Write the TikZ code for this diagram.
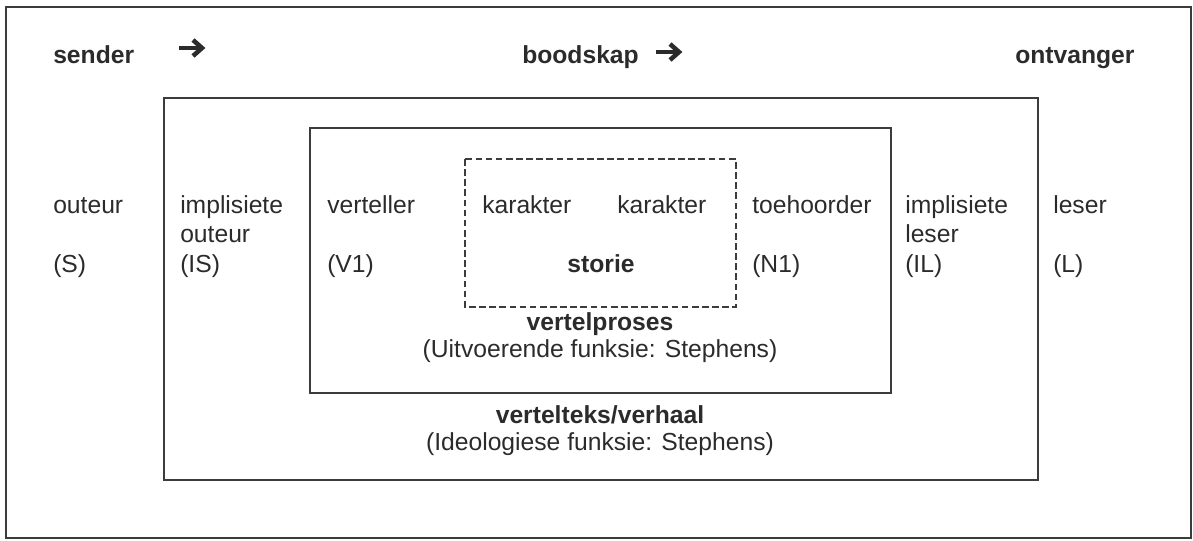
\documentclass[tikz,border=0pt]{standalone}
\usepackage{fontspec}
\setmainfont{Liberation Sans}
\usetikzlibrary{positioning}
\definecolor{ink}{HTML}{2B2B2B}
\definecolor{rule}{HTML}{3C3C3C}

\begin{document}
\begin{tikzpicture}[
    x=0.75pt, y=-0.75pt,
    every node/.style={font=\fontsize{18.5}{22}\selectfont, text=ink, inner sep=0pt},
    lbl/.style={anchor=base west},
    head/.style={anchor=base west, font=\fontsize{18.5}{22}\selectfont\bfseries},
    mid/.style={anchor=base},
    midbold/.style={anchor=base, font=\fontsize{18.5}{22}\selectfont\bfseries},
    frame/.style={draw=rule, line width=1.5pt},
    story/.style={draw=rule, line width=1.2pt, dash pattern=on 5pt off 2.6pt},
    pijl/.style={draw=ink, line width=3.4pt, miter limit=4},
]
\useasboundingbox (0,0) rectangle (1193,540);

% ---------------- frames
\draw[frame] (6,7) rectangle (1191,538);
\draw[frame] (164,98) rectangle (1038,480);
\draw[frame] (310,128) rectangle (891,393);
\draw[story] (465,159) rectangle (736,307);

% ---------------- top row
\node[head] (sender) at (53,63) {sender};
\node[head] (boodskap) at (522,63) {boodskap};
\node[head] (ontvanger) at (1015,63) {ontvanger};
\coordinate (pijlA) at (179,48);
\coordinate (pijlB) at (656,52);
\foreach \p in {pijlA, pijlB}{
    \draw[pijl] (\p) -- ++(21,0);
    \draw[pijl] ([shift={(14,-8)}]\p) -- ++(9,8) -- ++(-9,8);
}

% ---------------- participants
\foreach \x/\n/\a/\b/\c in {53/S/outeur//{(S)}, 180/IS/implisiete/outeur/{(IS)},
    327/V/verteller//{(V1)}, 752/N/toehoorder//{(N1)},
    905/IL/implisiete/leser/{(IL)}, 1053/L/leser//{(L)}}{
    \node[lbl] (\n-top) at (\x,213) {\a};
    \node[lbl] (\n-sub) at (\x,242) {\b};
    \node[lbl] (\n-code) at (\x,272) {\c};
}

% ---------------- story
\node[lbl] (karA) at (482,213) {karakter};
\node[lbl] (karB) at (617,213) {karakter};
\node[midbold] (storie) at (601,272) {storie};

% ---------------- captions
\node[midbold] (proses) at (600,330) {vertelproses};
\node[mid] (prosesF) at (600,357) {(Uitvoerende funksie: Stephens)};
\node[midbold] (teks) at (600,423) {vertelteks/verhaal};
\node[mid] (teksF) at (600,450) {(Ideologiese funksie: Stephens)};

\end{tikzpicture}
\end{document}
